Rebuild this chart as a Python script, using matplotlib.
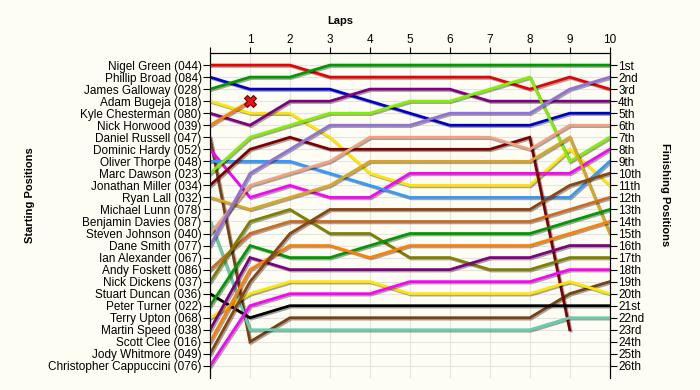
import matplotlib.pyplot as plt
import matplotlib.patheffects as pe

plt.rcParams['font.family'] = ['Liberation Sans', 'DejaVu Sans']

# starting grid (top to bottom)
drivers = ["Nigel Green (044)", "Phillip Broad (084)", "James Galloway (028)",
           "Adam Bugeja (018)", "Kyle Chesterman (080)", "Nick Horwood (039)",
           "Daniel Russell (047)", "Dominic Hardy (052)", "Oliver Thorpe (048)",
           "Marc Dawson (023)", "Jonathan Miller (034)", "Ryan Lall (032)",
           "Michael Lunn (078)", "Benjamin Davies (087)", "Steven Johnson (040)",
           "Dane Smith (077)", "Ian Alexander (067)", "Andy Foskett (086)",
           "Nick Dickens (037)", "Stuart Duncan (036)", "Peter Turner (022)",
           "Terry Upton (068)", "Martin Speed (038)", "Scott Clee (016)",
           "Jody Whitmore (049)", "Christopher Cappuccini (076)"]

colors = ["#ee0000", "#0000cc", "#009a00", "#ffe600", "#800080", "#ff8000",
          "#7b3f10", "#ff00ff", "#3399ff", "#80f000", "#800000", "#daa520",
          "#999999", "#66cdaa", "#f4a080", "#9370db", "#999999", "#d2691e",
          "#808000", "#000000", "#009a00", "#ffe600", "#800080", "#ff8000",
          "#8b4513", "#ff00ff"]

# position at lap 0..10 (shorter list = retired, None = did not start)
laps_pos = [
    [1, 1, 1, 2, 2, 2, 2, 2, 3, 2, 3],
    [2, 3, 3, 3, 4, 5, 6, 6, 6, 5, 5],
    [3, 2, 2, 1, 1, 1, 1, 1, 1, 1, 1],
    [4, 5, 5, 7, 10, 11, 11, 11, 11, 8, 11],
    [5, 6, 4, 4, 3, 3, 3, 4, 4, 4, 4],
    [6, 4],
    [7, 24, 22, 22, 22, 22, 22, 22, 22, 20, 19],
    [8, 12, 11, 12, 12, 10, 10, 10, 10, 10, 8],
    [9, 9, 9, 10, 11, 12, 12, 12, 12, 12, 9],
    [10, 7, 6, 5, 5, 4, 4, 3, 2, 9, 7],
    [11, 8, 7, 8, 8, 8, 8, 8, 7, 23],
    [12, 13, 12, 11, 9, 9, 9, 9, 9, 7, 15],
    None,
    [14, 23, 23, 23, 23, 23, 23, 23, 23, 22, 22],
    [15, 11, 10, 9, 7, 7, 7, 7, 8, 6, 6],
    [16, 10, 8, 6, 6, 6, 5, 5, 5, 3, 2],
    None,
    [18, 15, 14, 14, 14, 14, 14, 14, 14, 13, 12],
    [19, 14, 13, 15, 15, 17, 17, 18, 18, 17, 17],
    [20, 22, 21, 21, 21, 21, 21, 21, 21, 21, 21],
    [21, 16, 17, 17, 16, 15, 15, 15, 15, 14, 13],
    [22, 20, 19, 19, 19, 20, 20, 20, 20, 19, 20],
    [23, 17, 18, 18, 18, 18, 18, 17, 17, 16, 16],
    [24, 18, 16, 16, 17, 16, 16, 16, 16, 15, 14],
    [25, 19, 15, 13, 13, 13, 13, 13, 13, 11, 10],
    [26, 21, 20, 20, 20, 19, 19, 19, 19, 18, 18],
]
crashed = [5]  # Nick Horwood, lap 1

finish_labels = ["1st", "2nd", "3rd"] + [f"{i}th" for i in range(4, 21)] + \
                ["21st", "22nd", "23rd", "24th", "25th", "26th"]

bg = "#fdfdf3"
fig = plt.figure(figsize=(7, 3.9), dpi=100, facecolor=bg)
ax = fig.add_axes([0.3, 0.031, 0.571, 0.833])
ax.set_facecolor(bg)

shadow = [pe.SimpleLineShadow(offset=(1, -1), alpha=0.35), pe.Normal()]
for i, p in enumerate(laps_pos):
    if p is None:
        continue
    ax.plot(range(len(p)), p, color=colors[i], lw=2.0, solid_joinstyle="miter",
            path_effects=shadow, zorder=3)
    if i in crashed:
        ax.plot(len(p) - 1, p[-1], marker="X", ms=8, color="#ee1111",
                mec="#660000", mew=0.8, zorder=5)

ax.set_xlim(0, 10)
ax.set_ylim(27, 0)
ax.xaxis.tick_top()
ax.set_xticks(range(0, 11))
ax.set_xticklabels([""] + [str(i) for i in range(1, 11)], fontsize=8.5)
ax.set_yticks(range(1, 27))
ax.set_yticklabels(drivers, fontsize=8.5)
ax.tick_params(axis="x", length=4, pad=1)
ax.tick_params(axis="y", length=5, pad=1)
ax.grid(True, color="#e4e4e4", lw=0.8, zorder=0)
ax.spines["bottom"].set_visible(False)

ax2 = ax.twinx()
ax2.set_ylim(27, 0)
ax2.set_yticks(range(1, 27))
ax2.set_yticklabels(finish_labels, fontsize=8.5)
ax2.tick_params(axis="y", length=5, pad=1)
ax2.spines["bottom"].set_visible(False)

fig.text(0.486, 0.945, "Laps", ha="center", va="center", fontsize=8, weight="bold")
fig.text(0.043, 0.5, "Starting Positions", ha="center", va="center",
         rotation=90, fontsize=8, weight="bold")
fig.text(0.95, 0.5, "Finishing Positions", ha="center", va="center",
         rotation=270, fontsize=8, weight="bold")

fig.savefig("out.png", dpi=100, facecolor=bg)
